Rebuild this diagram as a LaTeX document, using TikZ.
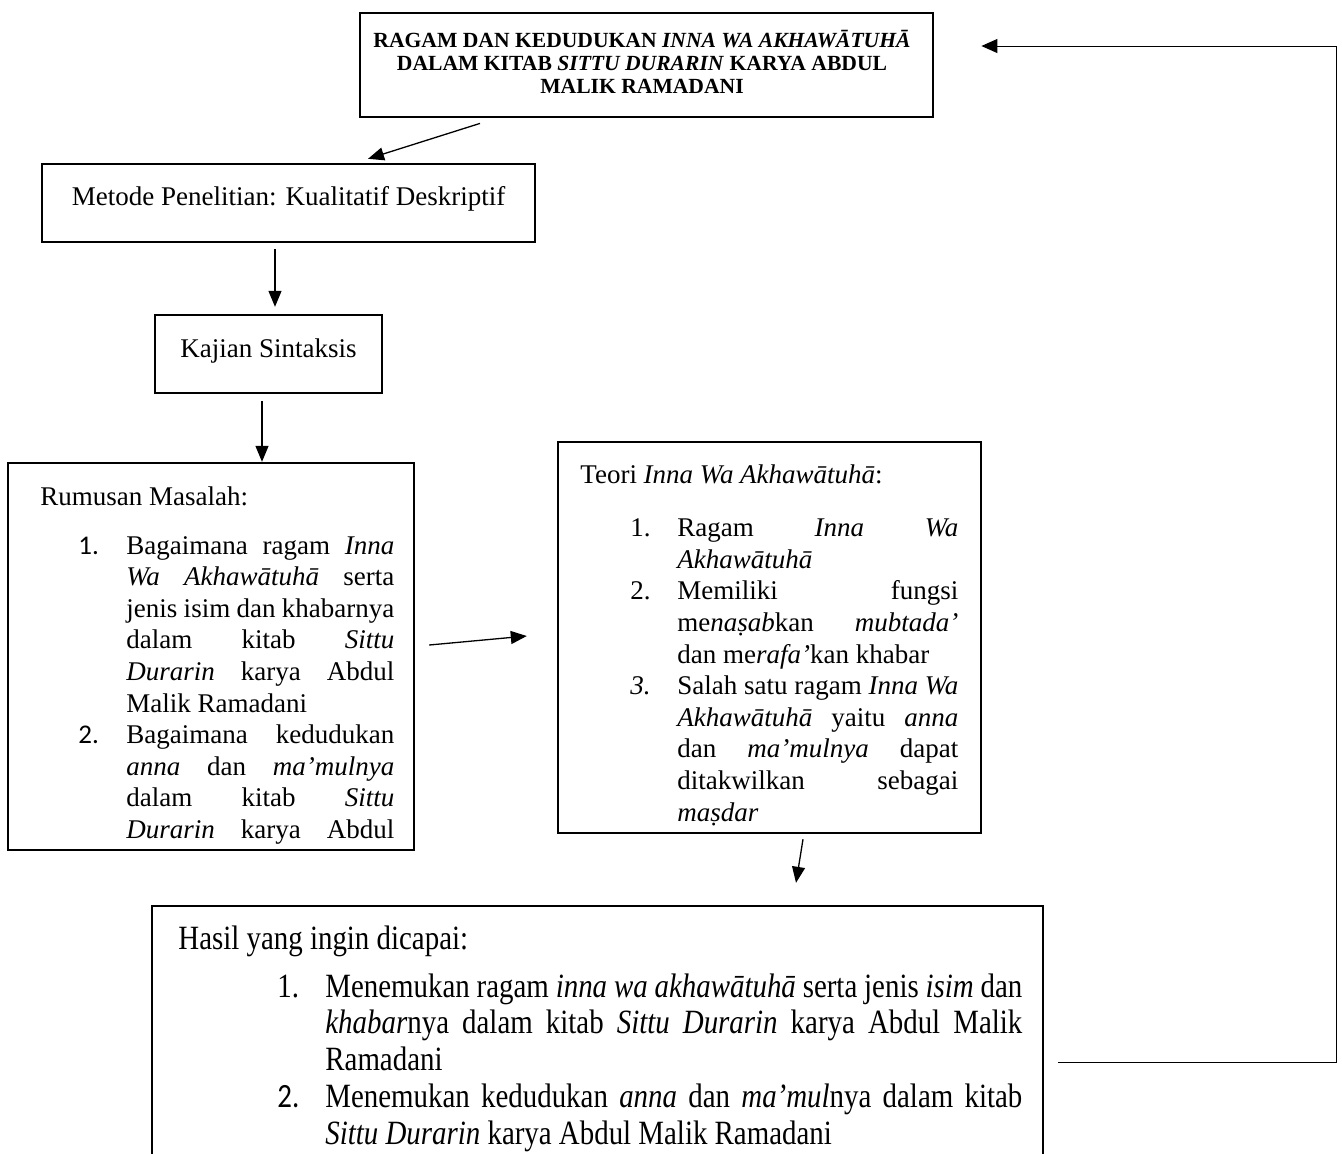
\documentclass[tikz,border=0pt]{standalone}
\usepackage{fontspec}
\usepackage{enumitem}
\setmainfont{Liberation Serif}
\newfontfamily\calibri{Carlito}
\newfontfamily\tallserif[FakeStretch=0.85]{Liberation Serif}
\newfontfamily\tallcalibri[FakeStretch=0.85]{Carlito}
\usetikzlibrary{calc,arrows.meta}
\tolerance=10000
\hbadness=10000
\hfuzz=3pt
\hyphenpenalty=10000

\begin{document}
\begin{tikzpicture}[x=0.5pt,y=-0.5pt,
  boxnode/.style={draw=black, line width=1.2pt, inner sep=0pt},
  textnode/.style={anchor=north west, inner sep=0pt, align=justify, font=\fontsize{13.5}{15.8}\selectfont}]
            \useasboundingbox (0,0) rectangle (1342,1153);

            \node[boxnode, line width=1.4pt, minimum width=286.5pt, minimum height=52pt] (J) at (646.5,65) {};
            \node[align=center, inner sep=0pt, font=\bfseries\fontsize{10.8}{11.6}\selectfont] (J1) at (642,62) {RAGAM DAN KEDUDUKAN \textit{INNA WA AKHAWĀTUHĀ}\\DALAM KITAB \textit{SITTU DURARIN} KARYA ABDUL\\MALIK RAMADANI};
            \node[boxnode, minimum width=246.5pt, minimum height=39pt, font=\fontsize{13.5}{15.8}\selectfont] (M) at (288.5,203) {\raisebox{2pt}[\height][\depth]{Metode Penelitian: Kualitatif Deskriptif}};
            \node[boxnode, minimum width=113.5pt, minimum height=39pt, font=\fontsize{13.5}{15.8}\selectfont] (K) at (268.5,354) {\raisebox{1.5pt}[\height][\depth]{Kajian Sintaksis}};
            \node[boxnode, minimum width=203pt, minimum height=193.5pt] (R) at (211,656.5) {};
            \node[boxnode, minimum width=211.5pt, minimum height=195.5pt] (T) at (769.5,637.5) {};
            \node[boxnode, minimum width=445.5pt, minimum height=160pt] (H) at (597.5,1066) {};

            % isi kotak
            \node[textnode, text width=177pt] (R1) at (40,486) {Rumusan Masalah:
              \begin{enumerate}[label=\calibri\arabic*., align=left, leftmargin=43pt, labelindent=19pt, labelwidth=16pt, labelsep=8pt, topsep=8.7pt, itemsep=0pt, parsep=0pt, partopsep=0pt]
                \item Bagaimana ragam \textit{Inna}\linebreak \textit{Wa Akhawātuhā} serta\linebreak jenis isim dan khabarnya\linebreak dalam kitab \textit{Sittu}\linebreak \textit{Durarin} karya Abdul\linebreak Malik Ramadani
                \item \parfillskip=0pt Bagaimana kedudukan\linebreak \textit{anna} dan \textit{ma’mulnya}\linebreak dalam kitab \textit{Sittu}\linebreak \textit{Durarin} karya Abdul
              \end{enumerate}};
            \node[textnode, text width=189pt] (T1) at (580,464.5) {Teori \textit{Inna Wa Akhawātuhā}:
              \begin{enumerate}[label=\arabic*., align=left, leftmargin=48.5pt, labelindent=25pt, labelwidth=15.5pt, labelsep=8pt, topsep=10.7pt, itemsep=0pt, parsep=0pt, partopsep=0pt]
                \item Ragam \textit{Inna Wa}\linebreak \textit{Akhawātuhā}
                \item Memiliki fungsi\linebreak me\textit{naṣab}kan \textit{mubtada’}\linebreak dan me\textit{rafa’}kan khabar
                \item[\textit{3.}] Salah satu ragam \textit{Inna Wa}\linebreak \textit{Akhawātuhā} yaitu \textit{anna}\linebreak dan \textit{ma’mulnya} dapat\linebreak ditakwilkan sebagai\linebreak \textit{maṣdar}
              \end{enumerate}};
            \node[textnode, text width=422pt, font=\tallserif\fontsize{17}{18.4}\selectfont] (H1) at (178,925) {Hasil yang ingin dicapai:
              \begin{enumerate}[label=\arabic*., align=left, leftmargin=73.5pt, labelindent=49.5pt, labelwidth=16pt, labelsep=8pt, topsep=5.6pt, itemsep=0pt, parsep=0pt, partopsep=0pt]
                \item Menemukan ragam \textit{inna wa akhawātuhā} serta jenis \textit{isim} dan\linebreak \textit{khabar}nya dalam kitab \textit{Sittu Durarin} karya Abdul Malik\linebreak Ramadani
                \item[\tallcalibri 2.] Menemukan kedudukan \textit{anna} dan \textit{ma’mul}nya dalam kitab\linebreak \textit{Sittu Durarin} karya Abdul Malik Ramadani
              \end{enumerate}};

            \tikzset{arr/.style={-{Triangle[length=8pt,width=6.5pt]}, line width=0.65pt}}

            \draw[arr] ($(J.south)+(-166.5,5)$) -- ($(M.north)+(79.5,-4)$);
            \draw[arr] ($(M.south)+(-13.5,6)$) -- ($(K.north)+(6.5,-7)$);
            \draw[arr] ($(K.south)+(-6.5,7)$) -- ($(R.north)+(51,0)$);
            \draw[arr] ($(R.east)+(14,-11.5)$) -- ($(T.west)+(-30,-1.5)$);
            \draw[arr] ($(T.south)+(33.5,5)$) -- ($(H.north)+(198.5,-22)$);
            \draw[arr, line width=0.5pt, -{Triangle[length=8pt,width=7pt]}] ($(H.north east)+(14,158)$) -- ++(278,0) |- ($(J.east)+(47,-19)$);

        \end{tikzpicture}
\end{document}
